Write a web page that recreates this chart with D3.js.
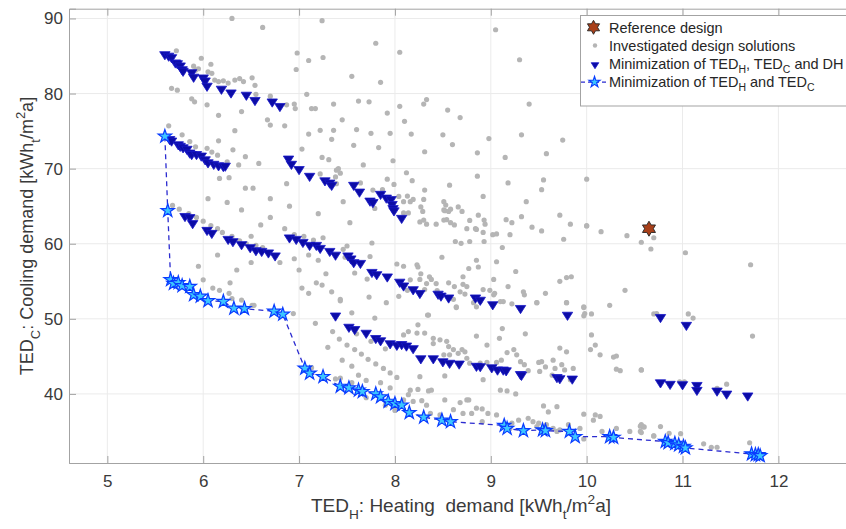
<!DOCTYPE html>
<html>
<head>
<meta charset="utf-8">
<script src="https://cdn.jsdelivr.net/npm/d3@7"></script>
<style>
  body { margin: 0; background: #fff; }
  text { font-family: "Liberation Sans", Arial, sans-serif; }
</style>
</head>
<body>
<div class="chart"></div>
<script>
// ---- data ----
var xTicks = [5, 6, 7, 8, 9, 10, 11, 12];
var yTicks = [40, 50, 60, 70, 80, 90];

var refDesign = [[10.65, 62.0]];

var minThree = [
  [5.60,85.1],[5.64,84.9],[5.67,84.7],[5.71,84.0],[5.73,83.9],[5.76,83.6],[5.78,83.1],[5.79,82.9],[5.88,82.7],[5.90,82.1],
  [6.00,82.0],[6.02,81.6],[6.04,80.9],[6.19,80.5],[6.29,80.0],[6.45,79.7],[6.54,79.0],[6.72,78.8],[6.80,78.2],
  [5.65,73.8],[5.67,73.6],[5.74,73.1],[5.76,72.9],[5.79,72.7],[5.83,72.5],[5.86,72.0],[5.88,71.8],[5.93,71.8],[5.98,71.6],
  [6.02,71.1],[6.05,70.7],[6.11,70.5],[6.16,70.3],[6.21,70.2],[6.23,70.25],
  [6.89,71.2],[6.92,70.5],[7.00,69.8],[7.11,68.9],[7.27,68.3],[7.32,68.0],[7.34,67.7],[7.57,67.7],[7.63,66.8],[7.74,65.6],
  [7.77,65.4],[7.85,66.5],[7.91,66.0],[7.96,65.8],[7.97,65.15],[7.98,64.6],[7.99,64.3],[8.07,63.3],
  [5.81,63.55],[5.86,63.4],[5.89,62.6],[6.04,61.7],[6.09,61.3],[6.26,60.5],[6.31,60.2],[6.40,59.8],[6.49,59.4],[6.55,59.0],
  [6.61,58.9],[6.68,58.7],[6.75,58.3],
  [6.90,60.7],[6.97,60.5],[7.04,60.1],[7.11,59.7],[7.18,59.7],[7.22,59.3],
  [7.32,58.9],[7.38,58.4],[7.51,58.3],[7.54,57.9],[7.57,57.4],[7.64,57.3],[7.76,56.1],[7.81,55.8],[7.92,55.5],[8.05,54.8],
  [8.09,54.3],[8.19,53.8],[8.26,53.3],[8.45,53.2],[8.48,52.95],[8.56,52.7],[8.84,52.7],[8.89,52.4],[9.02,51.8],[9.31,51.3],
  [9.80,50.4],[10.77,50.1],[11.04,49.05],
  [7.38,50.3],[7.52,48.8],[7.58,48.5],[7.70,48.0],[7.80,47.3],[7.85,47.0],[7.95,46.6],[8.02,46.4],[8.07,46.5],[8.12,46.3],
  [8.19,45.95],[8.27,44.6],[8.40,44.6],[8.50,44.2],[8.57,44.0],[8.67,43.9],[8.85,43.6],[8.89,43.55],[9.01,43.4],[9.07,43.1],
  [9.13,43.1],[9.16,43.0],[9.31,42.5],[9.32,42.4],[9.69,42.1],[9.72,41.95],[9.85,41.9],[10.77,41.4],[10.87,41.2],[11.00,41.15],
  [11.15,41.05],[11.15,40.4],[11.36,40.3],[11.46,39.9],[11.68,39.65]
];

var minTwo = [
  [5.60,74.3],[5.63,64.4],[5.66,55.2],[5.69,54.7],[5.74,54.8],[5.78,54.4],[5.86,54.3],[5.90,53.2],[5.97,53.0],[6.05,52.4],
  [6.21,52.3],[6.32,51.4],[6.43,51.35],[6.74,51.0],[6.83,50.6],[7.06,43.4],[7.11,42.75],[7.25,42.3],[7.43,41.0],[7.52,40.8],
  [7.62,40.5],[7.66,40.3],[7.80,40.0],[7.85,39.6],[7.93,39.0],[8.00,38.7],[8.07,38.5],[8.15,37.5],[8.30,36.9],[8.49,36.5],
  [8.58,36.3],[9.14,35.8],[9.17,35.4],[9.34,35.1],[9.54,35.2],[9.57,35.1],[9.82,35.0],[9.88,34.3],[10.24,34.3],[10.28,34.2],
  [10.82,33.65],[10.85,33.5],[10.92,33.4],[10.96,33.2],[11.01,33.0],[11.03,32.8],[11.72,32.0],[11.76,31.9],[11.79,31.9],[11.81,31.75]
];

var investigated = [
  // upper left
  [5.72,85.7],[5.98,84.7],[6.08,83.9],[6.98,85.4],[7.10,84.4],[6.97,83.2],[5.90,83.65],[5.92,83.1],[5.95,83.3],[6.05,82.9],
  [6.09,82.7],[6.12,81.8],[6.16,81.6],[6.21,81.7],[6.26,81.4],[6.33,81.8],[6.38,82.0],[6.42,81.6],[6.51,82.1],[6.54,81.1],
  [5.67,80.7],[5.73,80.45],[5.88,79.3],[5.91,78.9],[6.04,78.5],[6.40,77.6],[6.16,77.1],[6.55,79.9],[6.70,79.65],[6.87,78.5],
  [6.95,78.6],[6.96,78.0],[7.13,78.0],[7.17,78.0],[7.08,79.9],[7.36,78.6],[6.67,76.5],[6.70,75.8],[6.85,75.7],[6.33,75.05],
  [7.10,74.6],[7.22,75.1],[7.36,75.1],[7.34,73.9],[7.03,72.6],[7.24,71.5],[7.31,71.2],[7.41,70.0],[7.38,68.9],[7.22,69.3],
  [5.64,75.7],[5.78,74.5],[5.86,73.6],[5.92,72.9],[6.04,72.7],[6.09,72.2],[6.15,71.8],[6.16,73.7],[6.31,72.5],[6.44,71.6],
  [6.58,70.7],[6.37,70.5],[6.25,70.9],[6.17,68.7],[6.27,68.8],[6.44,67.4],[6.52,67.4],[6.87,68.0],[7.39,68.0],
  // top scatter
  [6.30,90.0],[7.24,89.7],[6.62,88.8],[7.80,86.7],[8.05,85.5],[9.05,88.5],[9.30,84.5],[7.25,84.8],[7.55,82.3],[7.62,79.0],
  [7.73,78.9],[7.85,81.5],[8.05,78.3],[8.30,78.6],[8.50,74.5],[8.33,79.2],[8.55,77.8],[8.68,76.8],[8.17,74.6],[7.95,74.7],
  [7.75,74.7],[9.32,74.5],[9.40,78.6],[9.58,72.0],[9.75,73.8],[10.0,68.6],[7.45,76.5],[7.60,75.2],[7.92,77.4],[8.10,76.3],
  [8.60,73.2],[8.98,74.0],[9.15,71.5],[9.55,68.5],
  // middle band
  [7.57,73.1],[7.83,72.8],[8.31,72.25],[8.86,72.1],[7.67,70.5],[7.98,71.05],[7.39,69.8],[7.43,69.4],[8.12,69.45],[8.18,68.4],
  [8.86,69.0],[9.18,68.1],[9.53,67.2],[8.57,67.8],[7.64,68.1],[7.77,67.15],[7.87,67.2],[7.92,68.6],[7.99,67.9],[8.04,66.3],
  [8.09,65.6],[8.16,65.6],[8.13,66.35],[8.19,65.9],[8.14,64.1],[8.09,64.1],[7.46,65.6],[7.79,64.7],[7.53,62.8],[8.31,67.15],
  [8.30,65.9],[8.27,64.9],[8.29,64.3],[8.51,65.6],[8.53,65.15],[8.51,64.5],[8.52,64.4],[8.56,64.3],[8.58,64.6],[8.66,64.9],
  [8.70,64.3],[8.54,63.2],[8.58,62.8],[8.62,62.5],[8.26,62.9],[8.30,63.15],[8.33,62.6],[8.43,62.6],[8.51,63.15],[8.75,62.0],
  [8.78,63.1],[8.84,62.0],[8.87,63.8],[8.93,63.15],[8.85,61.9],[8.94,62.6],[8.92,66.3],[8.92,61.5],[9.02,61.2],[9.06,61.3],
  [9.20,61.2],[9.22,62.8],[9.16,63.2],[9.32,63.6],[9.37,65.6],[9.43,62.2],[9.53,61.7],[9.72,63.8],[9.83,62.6],[10.0,62.4],
  [9.76,60.6],[8.63,60.3],[8.69,60.05],[8.78,60.3],[8.93,60.3],[9.12,59.5],[7.76,60.1],[7.46,59.25],[7.50,59.7],[7.48,58.2],
  [7.74,58.3],[7.58,56.1],[7.71,55.3],[7.73,52.9],[7.43,52.4],[7.55,50.8],[7.79,50.1],[8.02,57.3],[8.09,57.0],[8.23,57.2],
  [8.24,56.9],[8.27,56.0],[8.36,55.6],[8.38,55.25],[8.33,54.7],[8.26,55.25],[8.16,55.2],[8.13,53.8],[8.31,53.9],[8.43,54.7],
  [8.44,53.75],[8.49,58.2],[8.56,54.8],[8.62,54.3],[8.71,54.6],[8.75,54.3],[8.68,53.6],[8.73,53.3],[8.77,56.7],[8.71,55.6],
  [8.87,56.9],[8.85,57.8],[8.92,53.9],[8.99,53.8],[9.03,53.2],[9.06,57.6],[9.03,55.25],[9.04,53.4],[9.13,52.3],[9.22,52.0],
  [9.26,56.3],[9.18,54.3],[9.34,53.6],[9.35,53.2],[9.48,52.15],[9.57,53.4],[9.72,55.0],[9.79,55.5],[9.84,55.6],[9.79,52.15],
  [9.97,51.6],[9.98,50.7],[8.61,52.6],[8.64,51.6],[8.82,52.15],[8.34,50.5],[8.04,53.0],[7.91,52.15],[8.85,51.6],
  // left middle
  [5.68,65.1],[5.75,64.6],[5.85,64.0],[5.93,63.5],[6.00,63.0],[6.08,62.4],[6.15,62.0],[6.20,61.5],[6.30,61.0],[6.38,60.4],
  [6.45,60.0],[6.55,59.8],[6.62,59.5],[6.50,61.0],[6.60,62.5],[6.70,63.5],[6.40,64.5],[6.25,65.5],[6.05,66.0],[6.85,62.0],
  [6.95,61.2],[7.05,61.0],[7.15,60.5],[7.25,60.8],[6.80,57.5],[6.95,58.0],[7.10,58.5],[7.20,57.8],[6.50,57.5],[6.35,56.5],
  [7.00,56.5],[7.28,56.0],[6.15,58.5],[5.95,57.0],[6.70,66.0],[6.90,65.0],[7.20,64.0],
  [6.00,55.2],[6.10,54.1],[6.17,53.8],[6.27,53.4],[6.28,54.8],[6.30,52.7],[6.40,52.5],[6.51,51.8],[6.53,51.8],[6.94,50.7],
  [7.17,49.4],[7.03,54.1],[7.10,53.4],[7.18,54.8],[7.24,54.5],[7.34,53.6],[7.43,52.6],[7.13,43.5],[7.43,42.1],
  // lower band
  [7.35,48.3],[7.42,47.3],[7.50,46.5],[7.58,45.9],[7.65,45.3],[7.72,44.6],[7.80,44.0],[7.88,43.4],[7.95,42.8],[8.02,42.2],
  [7.45,44.5],[7.55,43.7],[7.62,42.5],[7.70,41.8],[7.85,41.5],[7.95,40.8],[7.60,48.0],[7.75,47.0],[7.90,46.0],[7.38,42.0],
  [7.55,41.5],[7.70,39.5],[7.90,38.5],[8.00,37.8],[7.30,46.2],
  [8.64,51.5],[8.89,52.3],[9.10,52.3],[9.48,52.15],[9.79,52.15],[9.97,51.5],[9.97,50.4],[10.05,50.65],[10.24,51.8],[8.35,50.5],
  [8.24,49.2],[8.14,48.3],[8.09,47.85],[8.31,48.1],[8.40,47.4],[8.47,47.2],[8.54,47.0],[8.40,46.7],[8.56,46.3],[8.61,45.9],
  [8.70,45.9],[8.73,45.6],[8.66,45.4],[8.57,45.2],[8.51,45.2],[8.75,44.75],[8.85,47.7],[8.96,46.5],[9.09,47.4],[9.12,48.7],
  [9.36,48.0],[9.24,45.9],[9.27,45.2],[9.17,45.5],[9.11,44.5],[9.06,44.2],[8.96,44.2],[8.89,44.1],[8.92,41.9],[8.78,44.1],
  [9.31,44.3],[9.35,43.9],[9.39,43.1],[9.50,44.2],[9.53,44.3],[9.57,43.6],[9.51,43.0],[9.65,44.5],[9.67,43.4],[9.74,43.9],
  [9.72,46.1],[9.79,45.6],[9.77,43.2],[9.86,43.4],[9.64,42.5],[10.04,45.9],[10.05,47.85],[10.09,46.5],[10.14,45.2],[10.28,44.9],
  [10.31,45.05],[10.31,43.3],[10.35,43.1],[10.57,43.2],[10.73,50.7],[8.16,40.5],[8.24,40.6],[8.35,40.4],[8.38,40.5],[8.14,39.9],
  [8.09,39.2],[8.19,39.0],[8.28,39.1],[8.33,38.5],[8.37,37.4],[8.47,37.2],[8.52,39.2],[8.61,37.9],[8.68,38.85],[8.75,39.2],
  [8.77,39.2],[8.71,37.4],[8.80,37.4],[8.85,38.1],[8.91,38.0],[8.97,37.4],[9.06,37.2],[9.10,40.5],[9.17,40.4],[9.26,40.0],
  [9.55,38.4],[9.60,37.6],[9.69,38.3],[9.29,36.5],[9.39,36.76],[9.44,36.3],[9.50,36.1],[9.48,35.65],[9.58,35.9],[9.65,35.4],
  [9.69,35.0],[9.72,35.2],[9.81,35.9],[9.93,35.4],[9.97,37.3],[10.09,37.2],[10.07,36.5],[10.14,37.0],[10.16,35.0],[10.31,35.4],
  [10.56,35.7],[10.59,35.6],[10.70,34.4],[10.57,34.85],[10.45,35.0],[8.91,36.3],[9.22,36.1],[9.20,35.4],[8.52,42.4],[8.26,42.3],
  [9.83,41.9],[9.97,34.0],[8.23,48.1],
  // right side
  [10.70,50.65],[11.06,50.65],[11.11,50.1],[11.73,47.7],[10.57,43.2],[10.97,41.6],[11.02,41.6],[11.46,41.3],[11.36,40.75],[10.57,35.9],
  [10.60,35.6],[10.77,35.65],[10.56,35.0],[10.70,34.4],[10.86,34.76],[10.98,34.7],[11.22,33.35],[11.30,32.9],[11.36,32.9],[11.70,33.5],
  [10.00,62.36],[10.15,61.6],[10.42,61.07],[10.57,60.2],[10.70,60.8],[10.67,59.3],[11.03,58.8],[10.40,53.8],[11.71,57.2]
];

// ---- layout ----
var width = 846;
var height = 529;
var plotLeft = 69, plotTop = 8.7, plotBottom = 463, plotRight = 850.3;

var x = d3.scaleLinear().domain([4.6, 12.75]).range([plotLeft, plotRight]);
var y = d3.scaleLinear().domain([30.8, 91.3]).range([plotBottom, plotTop]);

var svg = d3.select(".chart").append("svg")
  .attr("width", width)
  .attr("height", height);

// grid
svg.append("g").selectAll("line").data(xTicks).enter().append("line")
  .attr("x1", d => x(d)).attr("x2", d => x(d))
  .attr("y1", plotTop).attr("y2", plotBottom)
  .attr("stroke", "#ebebeb").attr("stroke-width", 1);
svg.append("g").selectAll("line").data(yTicks).enter().append("line")
  .attr("x1", plotLeft).attr("x2", plotRight)
  .attr("y1", d => y(d)).attr("y2", d => y(d))
  .attr("stroke", "#ebebeb").attr("stroke-width", 1);

// axes (inward ticks like matlab)
var axisColor = "#a3a3a3";
var xAxis = d3.axisBottom(x).tickValues(xTicks).tickSize(-7).tickPadding(12).tickFormat(d3.format("d"));
var yAxis = d3.axisLeft(y).tickValues(yTicks).tickSize(-7).tickPadding(6).tickFormat(d3.format("d"));

var gx = svg.append("g").attr("transform", "translate(0," + plotBottom + ")").call(xAxis);
var gy = svg.append("g").attr("transform", "translate(" + plotLeft + ",0)").call(yAxis);
var gt = svg.append("g").attr("transform", "translate(0," + plotTop + ")")
  .call(d3.axisTop(x).tickValues(xTicks).tickSize(-7).tickFormat(""));

[gx, gy, gt].forEach(function(g) {
  g.select(".domain").attr("stroke", axisColor);
  g.selectAll(".tick line").attr("stroke", axisColor);
  g.selectAll(".tick text").attr("fill", "#3a3a3a")
    .style("font-size", "17px")
    .style("font-family", "'Liberation Sans', Arial, sans-serif");
});

// investigated solutions
svg.append("g").selectAll("circle").data(investigated).enter().append("circle")
  .attr("cx", d => x(d[0])).attr("cy", d => y(d[1]))
  .attr("r", 2.6)
  .attr("fill", "#b5b5b5");

// triangles
var triPath = "M-5.2,-3.6L5.2,-3.6L0,4.6Z";
svg.append("g").selectAll("path").data(minThree).enter().append("path")
  .attr("d", triPath)
  .attr("transform", d => "translate(" + x(d[0]) + "," + y(d[1]) + ")")
  .attr("fill", "#0c0ca6")
  .attr("stroke", "#1818c8")
  .attr("stroke-width", 0.8);

// dashed front
var line = d3.line().x(d => x(d[0])).y(d => y(d[1]));
svg.append("path").datum(minTwo)
  .attr("d", line)
  .attr("fill", "none")
  .attr("stroke", "#2b2bd0")
  .attr("stroke-width", 1.3)
  .attr("stroke-dasharray", "5,4");

var star = d3.symbol().type(d3.symbolStar).size(55);
svg.append("g").selectAll("path").data(minTwo).enter().append("path")
  .attr("d", star)
  .attr("transform", d => "translate(" + x(d[0]) + "," + y(d[1]) + ")")
  .attr("fill", "#3cc6ff")
  .attr("stroke", "#0a3cff")
  .attr("stroke-width", 1.2);

// reference design, six-point star
function hexagram(r) {
  var pts = [];
  for (var i = 0; i < 12; i++) {
    var a = -Math.PI / 2 + i * Math.PI / 6;
    var rr = i % 2 === 0 ? r : r / Math.sqrt(3);
    pts.push([rr * Math.cos(a), rr * Math.sin(a)]);
  }
  return "M" + pts.map(p => p[0].toFixed(2) + "," + p[1].toFixed(2)).join("L") + "Z";
}
svg.append("g").selectAll("path").data(refDesign).enter().append("path")
  .attr("d", hexagram(7.5))
  .attr("transform", d => "translate(" + x(d[0]) + "," + y(d[1]) + ")")
  .attr("fill", "#a8401a")
  .attr("stroke", "#222")
  .attr("stroke-width", 0.9);

// rich text helper: parts = [text, "sub"|"sup"|undefined]
function richText(sel, parts, size, subDrop) {
  var cur = 0;
  var drop = subDrop || 0.38;
  parts.forEach(function(p) {
    var target = p[1] === "sub" ? size * drop : p[1] === "sup" ? -size * 0.42 : 0;
    sel.append("tspan")
      .attr("dy", target - cur)
      .style("font-size", (p[1] ? size * 0.72 : size) + "px")
      .text(p[0]);
    cur = target;
  });
}

// axis labels
var xl = svg.append("text")
  .attr("x", 461).attr("y", 512)
  .attr("text-anchor", "middle")
  .attr("fill", "#3a3a3a")
  .attr("xml:space", "preserve");
richText(xl, [["TED"], ["H", "sub"], [": Heating  demand [kWh"], ["t", "sub"], ["/m"], ["2", "sup"], ["a]"]], 19);

var yl = svg.append("text")
  .attr("transform", "translate(33,236) rotate(-90)")
  .attr("text-anchor", "middle")
  .attr("fill", "#3a3a3a");
richText(yl, [["TED"], ["C", "sub"], [": Cooling demand [kWh"], ["t", "sub"], ["/m"], ["2", "sup"], ["a]"]], 18);

// legend
var lg = svg.append("g");
lg.append("rect")
  .attr("x", 580.5).attr("y", 15.5)
  .attr("width", 280).attr("height", 90.5)
  .attr("fill", "#fff").attr("stroke", "#a3a3a3");

var rows = [27.3, 45.5, 63.8, 82.1];
lg.append("path").attr("d", hexagram(7))
  .attr("transform", "translate(593.5," + rows[0] + ")")
  .attr("fill", "#a8401a").attr("stroke", "#222").attr("stroke-width", 0.9);
lg.append("circle").attr("cx", 595).attr("cy", rows[1]).attr("r", 2.2).attr("fill", "#b5b5b5");
lg.append("path").attr("d", "M-3.8,-2.6L3.8,-2.6L0,3.4Z")
  .attr("transform", "translate(595," + (rows[2] + 1.5) + ")")
  .attr("fill", "#0c0ca6").attr("stroke", "#1818c8").attr("stroke-width", 0.8);
lg.append("line").attr("x1", 581).attr("x2", 608).attr("y1", rows[3]).attr("y2", rows[3])
  .attr("stroke", "#2b2bd0").attr("stroke-width", 1.3).attr("stroke-dasharray", "4,3");
lg.append("path").attr("d", d3.symbol().type(d3.symbolStar).size(38))
  .attr("transform", "translate(594.5," + rows[3] + ")")
  .attr("fill", "#3cc6ff").attr("stroke", "#0a3cff").attr("stroke-width", 1.1);

var legendText = [
  [["Reference design"]],
  [["Investigated design solutions"]],
  [["Minimization of TED"], ["H", "sub"], [", TED"], ["C", "sub"], [" and DH"]],
  [["Minimization of TED"], ["H", "sub"], [" and TED"], ["C", "sub"]]
];
legendText.forEach(function(parts, i) {
  var t = lg.append("text").attr("x", 609).attr("y", rows[i] + 5.2).attr("fill", "#262626");
  richText(t, parts, 14.5, 0.28);
});
</script>
</body>
</html>
